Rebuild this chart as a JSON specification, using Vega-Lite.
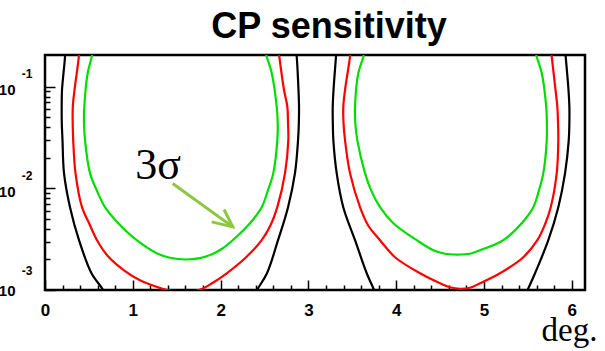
{
  "$schema": "https://vega.github.io/schema/vega-lite/v6.json",
  "width": 540,
  "height": 235,
  "autosize": {"type": "none"},
  "padding": {"left": 45, "top": 55, "right": 20, "bottom": 61},
  "background": "white",
  "title": {"text": "CP sensitivity", "font": "Liberation Sans", "fontSize": 36, "fontWeight": "bold", "color": "black", "anchor": "middle", "frame": "group", "dx": 14, "offset": -19, "baseline": "alphabetic"},
  "config": {"view": {"stroke": "black", "strokeWidth": 2.5}, "axis": {"grid": false}},
  "datasets": {
    "curves": [
      {"c":"K","s":"K1L","i":0,"x":0.2278,"y":0.2299},{"c":"K","s":"K1L","i":1,"x":0.2278,"y":0.1975},{"c":"K","s":"K1L","i":2,"x":0.1936,"y":0.0928},{"c":"K","s":"K1L","i":3,"x":0.1902,"y":0.06353},{"c":"K","s":"K1L","i":4,"x":0.1913,"y":0.04389},{"c":"K","s":"K1L","i":5,"x":0.1993,"y":0.02985},{"c":"K","s":"K1L","i":6,"x":0.2164,"y":0.01412},{"c":"K","s":"K1L","i":7,"x":0.2847,"y":0.006531},{"c":"K","s":"K1L","i":8,"x":0.3872,"y":0.00309},{"c":"K","s":"K1L","i":9,"x":0.5296,"y":0.001461},{"c":"K","s":"K1L","i":10,"x":0.6492,"y":0.00104},{"c":"K","s":"K1L","i":11,"x":0.6948,"y":0.000887},
      {"c":"K","s":"K1R","i":0,"x":2.859,"y":0.2299},{"c":"K","s":"K1R","i":1,"x":2.867,"y":0.1975},{"c":"K","s":"K1R","i":2,"x":2.887,"y":0.0928},{"c":"K","s":"K1R","i":3,"x":2.893,"y":0.06353},{"c":"K","s":"K1R","i":4,"x":2.891,"y":0.04389},{"c":"K","s":"K1R","i":5,"x":2.882,"y":0.02985},{"c":"K","s":"K1R","i":6,"x":2.847,"y":0.01412},{"c":"K","s":"K1R","i":7,"x":2.768,"y":0.006531},{"c":"K","s":"K1R","i":8,"x":2.654,"y":0.00309},{"c":"K","s":"K1R","i":9,"x":2.528,"y":0.001461},{"c":"K","s":"K1R","i":10,"x":2.426,"y":0.00104},{"c":"K","s":"K1R","i":11,"x":2.38,"y":0.000887},
      {"c":"K","s":"K2L","i":0,"x":3.32,"y":0.2299},{"c":"K","s":"K2L","i":1,"x":3.314,"y":0.1975},{"c":"K","s":"K2L","i":2,"x":3.286,"y":0.0928},{"c":"K","s":"K2L","i":3,"x":3.277,"y":0.06353},{"c":"K","s":"K2L","i":4,"x":3.278,"y":0.04389},{"c":"K","s":"K2L","i":5,"x":3.284,"y":0.02985},{"c":"K","s":"K2L","i":6,"x":3.322,"y":0.01412},{"c":"K","s":"K2L","i":7,"x":3.397,"y":0.006531},{"c":"K","s":"K2L","i":8,"x":3.531,"y":0.00309},{"c":"K","s":"K2L","i":9,"x":3.664,"y":0.001461},{"c":"K","s":"K2L","i":10,"x":3.739,"y":0.00104},{"c":"K","s":"K2L","i":11,"x":3.77,"y":0.000887},
      {"c":"K","s":"K2R","i":0,"x":5.923,"y":0.2299},{"c":"K","s":"K2R","i":1,"x":5.93,"y":0.1975},{"c":"K","s":"K2R","i":2,"x":5.962,"y":0.0928},{"c":"K","s":"K2R","i":3,"x":5.972,"y":0.06353},{"c":"K","s":"K2R","i":4,"x":5.972,"y":0.04389},{"c":"K","s":"K2R","i":5,"x":5.965,"y":0.02985},{"c":"K","s":"K2R","i":6,"x":5.923,"y":0.01412},{"c":"K","s":"K2R","i":7,"x":5.846,"y":0.006531},{"c":"K","s":"K2R","i":8,"x":5.732,"y":0.00309},{"c":"K","s":"K2R","i":9,"x":5.581,"y":0.001461},{"c":"K","s":"K2R","i":10,"x":5.505,"y":0.00104},{"c":"K","s":"K2R","i":11,"x":5.467,"y":0.000887},
      {"c":"R","s":"R1","i":0,"x":0.3872,"y":0.2299},{"c":"R","s":"R1","i":1,"x":0.385,"y":0.1975},{"c":"R","s":"R1","i":2,"x":0.336,"y":0.0928},{"c":"R","s":"R1","i":3,"x":0.3166,"y":0.06353},{"c":"R","s":"R1","i":4,"x":0.3155,"y":0.04389},{"c":"R","s":"R1","i":5,"x":0.3212,"y":0.02985},{"c":"R","s":"R1","i":6,"x":0.3474,"y":0.01412},{"c":"R","s":"R1","i":7,"x":0.4214,"y":0.006531},{"c":"R","s":"R1","i":8,"x":0.5125,"y":0.004339},{"c":"R","s":"R1","i":9,"x":0.5923,"y":0.00309},{"c":"R","s":"R1","i":10,"x":0.7175,"y":0.002148},{"c":"R","s":"R1","i":11,"x":0.8998,"y":0.001563},{"c":"R","s":"R1","i":12,"x":1.082,"y":0.001246},{"c":"R","s":"R1","i":13,"x":1.2528,"y":0.001088},{"c":"R","s":"R1","i":14,"x":1.4009,"y":0.000993},{"c":"R","s":"R1","i":15,"x":1.5831,"y":0.000938},{"c":"R","s":"R1","i":16,"x":1.7768,"y":0.001016},{"c":"R","s":"R1","i":17,"x":1.9021,"y":0.001164},{"c":"R","s":"R1","i":18,"x":2.0695,"y":0.001461},{"c":"R","s":"R1","i":19,"x":2.2779,"y":0.002053},{"c":"R","s":"R1","i":20,"x":2.4681,"y":0.00309},{"c":"R","s":"R1","i":21,"x":2.574,"y":0.004439},{"c":"R","s":"R1","i":22,"x":2.6458,"y":0.006531},{"c":"R","s":"R1","i":23,"x":2.7335,"y":0.01412},{"c":"R","s":"R1","i":24,"x":2.7711,"y":0.02985},{"c":"R","s":"R1","i":25,"x":2.7677,"y":0.04389},{"c":"R","s":"R1","i":26,"x":2.7597,"y":0.06353},{"c":"R","s":"R1","i":27,"x":2.7221,"y":0.0928},{"c":"R","s":"R1","i":28,"x":2.6686,"y":0.1975},{"c":"R","s":"R1","i":29,"x":2.6595,"y":0.2299},
      {"c":"R","s":"R2","i":0,"x":3.4795,"y":0.2299},{"c":"R","s":"R2","i":1,"x":3.4738,"y":0.1975},{"c":"R","s":"R2","i":2,"x":3.4169,"y":0.0928},{"c":"R","s":"R2","i":3,"x":3.3975,"y":0.06353},{"c":"R","s":"R2","i":4,"x":3.3998,"y":0.04389},{"c":"R","s":"R2","i":5,"x":3.4169,"y":0.02985},{"c":"R","s":"R2","i":6,"x":3.4738,"y":0.01412},{"c":"R","s":"R2","i":7,"x":3.5877,"y":0.006531},{"c":"R","s":"R2","i":8,"x":3.6788,"y":0.004339},{"c":"R","s":"R2","i":9,"x":3.8155,"y":0.00309},{"c":"R","s":"R2","i":10,"x":3.9863,"y":0.0021},{"c":"R","s":"R2","i":11,"x":4.2711,"y":0.001461},{"c":"R","s":"R2","i":12,"x":4.4989,"y":0.001164},{"c":"R","s":"R2","i":13,"x":4.6128,"y":0.001063},{"c":"R","s":"R2","i":14,"x":4.7267,"y":0.001027},{"c":"R","s":"R2","i":15,"x":4.8405,"y":0.001051},{"c":"R","s":"R2","i":16,"x":4.9544,"y":0.001164},{"c":"R","s":"R2","i":17,"x":5.1822,"y":0.001461},{"c":"R","s":"R2","i":18,"x":5.4476,"y":0.0021},{"c":"R","s":"R2","i":19,"x":5.6071,"y":0.00309},{"c":"R","s":"R2","i":20,"x":5.6948,"y":0.004439},{"c":"R","s":"R2","i":21,"x":5.7597,"y":0.006531},{"c":"R","s":"R2","i":22,"x":5.828,"y":0.01412},{"c":"R","s":"R2","i":23,"x":5.8462,"y":0.02985},{"c":"R","s":"R2","i":24,"x":5.8428,"y":0.04389},{"c":"R","s":"R2","i":25,"x":5.8349,"y":0.06353},{"c":"R","s":"R2","i":26,"x":5.8144,"y":0.0928},{"c":"R","s":"R2","i":27,"x":5.7711,"y":0.1975},{"c":"R","s":"R2","i":28,"x":5.7631,"y":0.2299},
      {"c":"G","s":"G1","i":0,"x":0.541,"y":0.2299},{"c":"G","s":"G1","i":1,"x":0.5319,"y":0.1975},{"c":"G","s":"G1","i":2,"x":0.4863,"y":0.1365},{"c":"G","s":"G1","i":3,"x":0.4476,"y":0.06353},{"c":"G","s":"G1","i":4,"x":0.4442,"y":0.04389},{"c":"G","s":"G1","i":5,"x":0.4556,"y":0.02985},{"c":"G","s":"G1","i":6,"x":0.5125,"y":0.01412},{"c":"G","s":"G1","i":7,"x":0.5888,"y":0.0096},{"c":"G","s":"G1","i":8,"x":0.6834,"y":0.006531},{"c":"G","s":"G1","i":9,"x":0.8349,"y":0.004541},{"c":"G","s":"G1","i":10,"x":1.0444,"y":0.00309},{"c":"G","s":"G1","i":11,"x":1.2722,"y":0.0023},{"c":"G","s":"G1","i":12,"x":1.4237,"y":0.002076},{"c":"G","s":"G1","i":13,"x":1.6025,"y":0.001995},{"c":"G","s":"G1","i":14,"x":1.7654,"y":0.002062},{"c":"G","s":"G1","i":15,"x":1.9021,"y":0.002247},{"c":"G","s":"G1","i":16,"x":2.0159,"y":0.002545},{"c":"G","s":"G1","i":17,"x":2.1378,"y":0.00309},{"c":"G","s":"G1","i":18,"x":2.3349,"y":0.004541},{"c":"G","s":"G1","i":19,"x":2.4681,"y":0.006531},{"c":"G","s":"G1","i":20,"x":2.5399,"y":0.0096},{"c":"G","s":"G1","i":21,"x":2.6002,"y":0.01412},{"c":"G","s":"G1","i":22,"x":2.6458,"y":0.02985},{"c":"G","s":"G1","i":23,"x":2.6503,"y":0.04389},{"c":"G","s":"G1","i":24,"x":2.639,"y":0.06353},{"c":"G","s":"G1","i":25,"x":2.582,"y":0.1365},{"c":"G","s":"G1","i":26,"x":2.5251,"y":0.1975},{"c":"G","s":"G1","i":27,"x":2.5057,"y":0.2299},
      {"c":"G","s":"G2","i":0,"x":3.6333,"y":0.2299},{"c":"G","s":"G2","i":1,"x":3.6253,"y":0.1975},{"c":"G","s":"G2","i":2,"x":3.5683,"y":0.1365},{"c":"G","s":"G2","i":3,"x":3.5308,"y":0.06353},{"c":"G","s":"G2","i":4,"x":3.5342,"y":0.04389},{"c":"G","s":"G2","i":5,"x":3.5569,"y":0.02985},{"c":"G","s":"G2","i":6,"x":3.6446,"y":0.01412},{"c":"G","s":"G2","i":7,"x":3.713,"y":0.0096},{"c":"G","s":"G2","i":8,"x":3.8155,"y":0.006531},{"c":"G","s":"G2","i":9,"x":3.967,"y":0.004541},{"c":"G","s":"G2","i":10,"x":4.2335,"y":0.00309},{"c":"G","s":"G2","i":11,"x":4.4226,"y":0.002461},{"c":"G","s":"G2","i":12,"x":4.5558,"y":0.002273},{"c":"G","s":"G2","i":13,"x":4.6959,"y":0.002233},{"c":"G","s":"G2","i":14,"x":4.8405,"y":0.002273},{"c":"G","s":"G2","i":15,"x":4.9544,"y":0.002461},{"c":"G","s":"G2","i":16,"x":5.2198,"y":0.00309},{"c":"G","s":"G2","i":17,"x":5.4294,"y":0.004541},{"c":"G","s":"G2","i":18,"x":5.5615,"y":0.006531},{"c":"G","s":"G2","i":19,"x":5.6264,"y":0.0096},{"c":"G","s":"G2","i":20,"x":5.6754,"y":0.01412},{"c":"G","s":"G2","i":21,"x":5.7141,"y":0.02985},{"c":"G","s":"G2","i":22,"x":5.7141,"y":0.05029},{"c":"G","s":"G2","i":23,"x":5.7084,"y":0.06353},{"c":"G","s":"G2","i":24,"x":5.6572,"y":0.1365},{"c":"G","s":"G2","i":25,"x":5.6002,"y":0.1975},{"c":"G","s":"G2","i":26,"x":5.5809,"y":0.2299}
    ],
    "arrow": [
      {"s":"shaft","k":0,"ax":1.454,"ay":0.01117},{"s":"shaft","k":1,"ax":2.138,"ay":0.004178},
      {"s":"head","k":0,"ax":2.039,"ay":0.006194},{"s":"head","k":1,"ax":2.138,"ay":0.004178},{"s":"head","k":2,"ax":1.899,"ay":0.004677}
    ],
    "note": [{"tx":1.287,"ty":0.01233,"label":"3σ"}]
  },
  "layer": [
    {
      "data": {"name": "curves"},
      "mark": {"type": "line", "clip": true, "strokeWidth": 2.2, "interpolate": "catmull-rom"},
      "encoding": {
        "x": {"field": "x", "type": "quantitative", "scale": {"domain": [0, 6.15], "nice": false, "zero": false},
          "axis": {"orient": "bottom", "values": [0,1,2,3,4,5,6], "tickSize": -10, "tickWidth": 1.5, "tickColor": "black", "domain": false, "grid": false,
            "labelFont": "Liberation Sans", "labelFontWeight": "bold", "labelFontSize": 17, "labelColor": "black", "labelPadding": 22, "labelBaseline": "top", "labelFlush": false, "labelOverlap": false, "format": "d",
            "title": "deg.", "titleFont": "Liberation Serif", "titleFontSize": 33, "titleFontWeight": "normal", "titleColor": "black", "titleX": 552, "titleY": 50, "titleAlign": "right", "titleBaseline": "alphabetic"}},
        "y": {"field": "y", "type": "quantitative", "scale": {"type": "log", "domain": [0.001, 0.2052], "nice": false},
          "axis": {"orient": "left", "values": [0.001, 0.01, 0.1], "tickSize": -10, "tickWidth": 1.5, "tickColor": "black", "domain": false, "grid": false,
            "labelExpr": "'10'", "labelFont": "Liberation Sans", "labelFontWeight": "bold", "labelFontSize": 15, "labelColor": "black", "labelPadding": 40, "labelBaseline": "middle", "labelOverlap": false, "labelFlush": false,
            "labelOffset": {"condition": {"test": "datum.value < 0.005", "value": 0}, "value": 3}, "title": null}},
        "color": {"field": "c", "type": "nominal", "scale": {"domain": ["K", "R", "G"], "range": ["#000000", "#ff0000", "#00dd00"]}, "legend": null},
        "detail": {"field": "s"},
        "order": {"field": "i", "type": "quantitative"}
      }
    },
    {
      "data": {"name": "arrow"},
      "mark": {"type": "line", "color": "#8dc63f", "strokeWidth": 3},
      "encoding": {
        "x": {"field": "ax", "type": "quantitative", "scale": {"domain": [0, 6.15], "nice": false, "zero": false},
          "axis": {"orient": "bottom", "values": [0.2,0.4,0.6,0.8,1.2,1.4,1.6,1.8,2.2,2.4,2.6,2.8,3.2,3.4,3.6,3.8,4.2,4.4,4.6,4.8,5.2,5.4,5.6,5.8], "tickSize": -5, "tickWidth": 1.5, "tickColor": "black", "domain": false, "grid": false, "labels": false, "title": null}},
        "y": {"field": "ay", "type": "quantitative", "scale": {"type": "log", "domain": [0.001, 0.2052], "nice": false},
          "axis": {"orient": "left", "values": [0.002,0.003,0.004,0.005,0.006,0.007,0.008,0.009,0.02,0.03,0.04,0.05,0.06,0.07,0.08,0.09], "tickSize": -5, "tickWidth": 1.5, "tickColor": "black", "domain": false, "grid": false, "labels": false, "title": null}},
        "detail": {"field": "s"},
        "order": {"field": "k", "type": "quantitative"}
      }
    },
    {
      "data": {"name": "note"},
      "mark": {"type": "text", "font": "Liberation Serif", "fontSize": 44, "align": "center", "baseline": "alphabetic", "color": "black"},
      "encoding": {
        "x": {"field": "tx", "type": "quantitative", "scale": {"domain": [0, 6.15], "nice": false, "zero": false}, "axis": null},
        "y": {"field": "ty", "type": "quantitative", "scale": {"type": "log", "domain": [0.001, 0.2052], "nice": false},
          "axis": {"orient": "left", "values": [0.001, 0.01, 0.1], "ticks": false, "domain": false, "grid": false,
            "labelExpr": "'' + round(log(datum.value) / LN10)", "labelFont": "Liberation Sans", "labelFontWeight": "bold", "labelFontSize": 12, "labelColor": "black", "labelPadding": 13, "labelBaseline": "middle", "labelOverlap": false, "labelFlush": false,
            "labelOffset": {"condition": {"test": "datum.value < 0.005", "value": -20}, "value": -13}, "title": null}},
        "text": {"field": "label"}
      }
    }
  ],
  "resolve": {"axis": {"x": "independent", "y": "independent"}}
}
